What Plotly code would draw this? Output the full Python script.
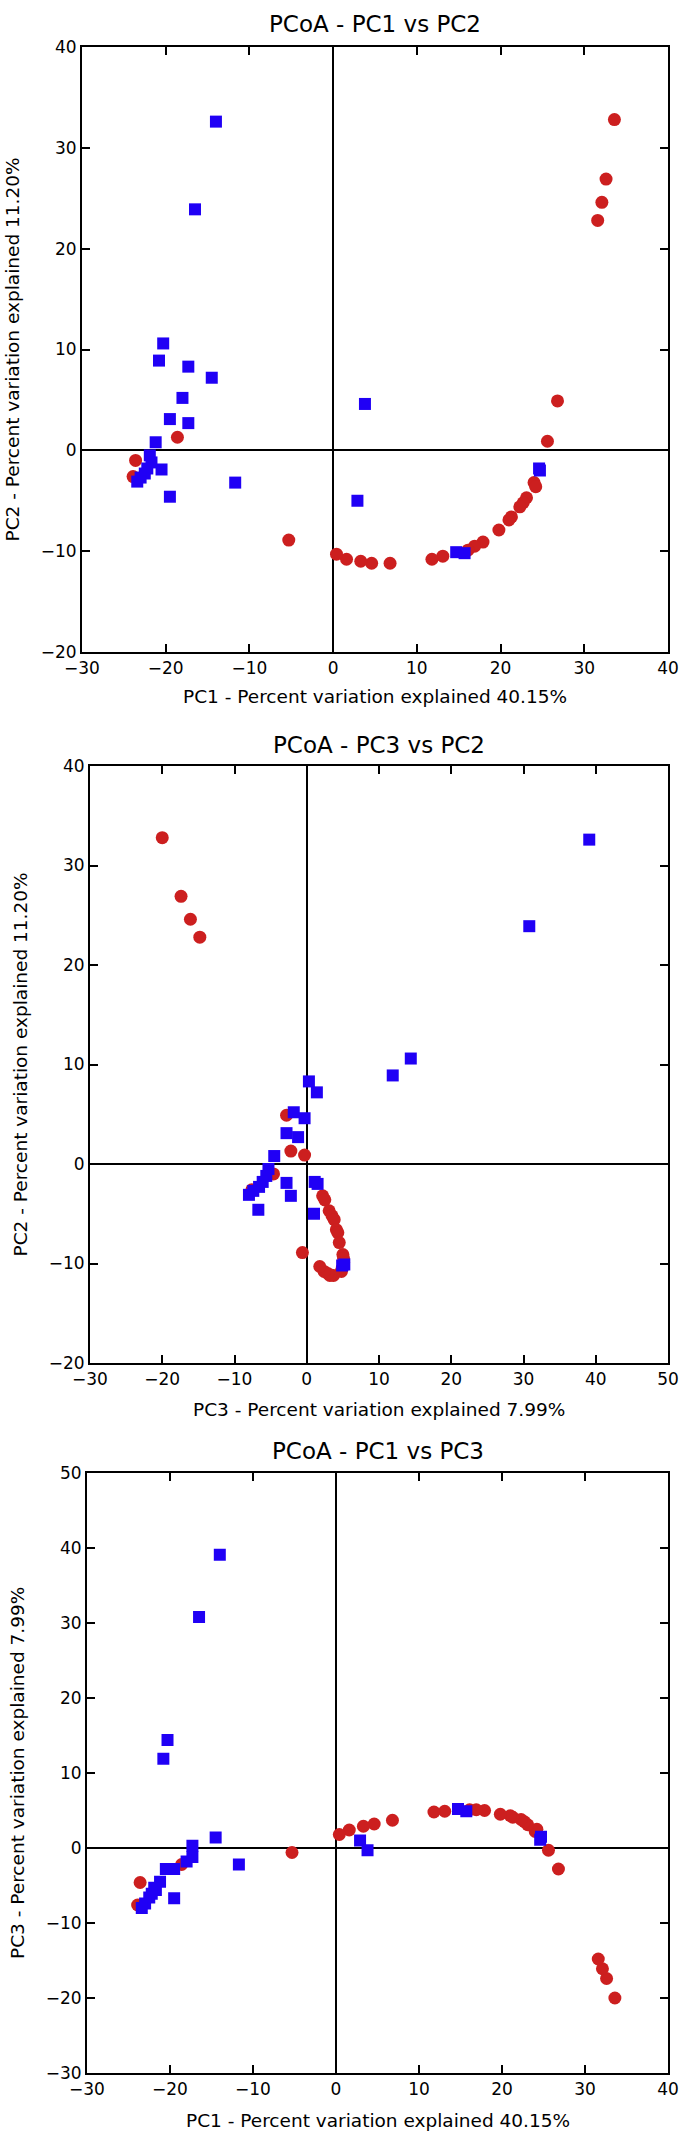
import plotly.graph_objects as go

# Sample coordinates (percent variation explained axes)
red_pc1 = [33.6, 32.6, 32.1, 31.6, 26.8, 25.6, 24.0, 24.2, 23.1, 22.7, 22.3, 21.3, 21.0,
           19.8, 17.9, 16.9, 16.1, 13.1, 11.8, 6.8, 4.6, 3.3, 1.6, 0.4, -5.3, -18.6, -23.6, -23.9]
red_pc2 = [32.8, 26.9, 24.6, 22.8, 4.9, 0.9, -3.2, -3.6, -4.7, -5.2, -5.6, -6.6, -6.9,
           -7.9, -9.1, -9.5, -9.9, -10.5, -10.8, -11.2, -11.2, -11.0, -10.8, -10.3, -8.9, 1.3, -1.0, -2.6]
red_pc3 = [-20.0, -17.4, -16.1, -14.8, -2.8, -0.3, 2.2, 2.5, 3.1, 3.5, 3.8, 4.1, 4.3,
           4.5, 5.0, 5.1, 5.1, 4.9, 4.8, 3.7, 3.2, 2.9, 2.4, 1.8, -0.6, -2.2, -4.6, -7.6]

blue_pc1 = [-14.0, -16.5, -20.3, -20.8, -17.3, -14.5, -18.0, -19.5, -17.3, -21.2, -20.5, -19.5,
            -11.7, 3.8, 2.9, 14.7, 15.7, 24.7, 24.6, -21.9, -21.7, -22.2, -22.5, -23.0, -23.4]
blue_pc2 = [32.6, 23.9, 10.6, 8.9, 8.3, 7.2, 5.2, 3.1, 2.7, 0.8, -1.9, -4.6,
            -3.2, 4.6, -5.0, -10.1, -10.2, -2.0, -1.8, -0.5, -1.2, -1.8, -2.3, -2.7, -3.1]
blue_pc3 = [39.1, 30.8, 14.4, 11.9, 0.3, 1.4, -1.8, -2.8, -1.2, -4.5, -2.8, -6.7,
            -2.2, -0.3, 1.0, 5.2, 4.9, 1.5, 1.1, -5.3, -5.6, -6.1, -6.6, -7.4, -8.0]

pc_labels = {
    "PC1": "PC1 - Percent variation explained 40.15%",
    "PC2": "PC2 - Percent variation explained 11.20%",
    "PC3": "PC3 - Percent variation explained 7.99%",
}

red = {"PC1": red_pc1, "PC2": red_pc2, "PC3": red_pc3}
blue = {"PC1": blue_pc1, "PC2": blue_pc2, "PC3": blue_pc3}

RED = "#cc1f1f"
BLUE = "#2000f5"
FONT = "DejaVu Sans"
W, H = 690, 2134

# (x pc, y pc, x range, y range, plot box in px: left, top, right, bottom,
#  title y, x-title y, y-title x)
panels = [
    ("PC1", "PC2", [-30, 40], [-20, 40], (82, 47, 668, 652), 24, 697, 12),
    ("PC3", "PC2", [-30, 50], [-20, 40], (90, 766, 668, 1363), 745, 1409, 20),
    ("PC1", "PC3", [-30, 40], [-30, 50], (87, 1473, 668, 2073), 1451, 2120, 17),
]


def px(x):
    return x / W


def py(y):
    return 1 - y / H


fig = go.Figure()
annotations = []
layout = {}

for i, (xk, yk, xr, yr, box, t_y, xt_y, yt_x) in enumerate(panels, start=1):
    left, top, right, bottom = box
    xa = "x" if i == 1 else f"x{i}"
    ya = "y" if i == 1 else f"y{i}"

    fig.add_trace(go.Scatter(
        x=red[xk], y=red[yk], xaxis=xa, yaxis=ya, mode="markers",
        marker={"symbol": "circle", "size": 13, "color": RED, "line": {"width": 0}},
        showlegend=False, hoverinfo="skip",
    ))
    fig.add_trace(go.Scatter(
        x=blue[xk], y=blue[yk], xaxis=xa, yaxis=ya, mode="markers",
        marker={"symbol": "square", "size": 12, "color": BLUE, "line": {"width": 0}},
        showlegend=False, hoverinfo="skip",
    ))

    axis_common = {
        "showgrid": False,
        "zeroline": True,
        "zerolinecolor": "black",
        "zerolinewidth": 2,
        "showline": True,
        "linecolor": "black",
        "linewidth": 2,
        "mirror": "ticks",
        "ticks": "inside",
        "ticklen": 8,
        "tickwidth": 2,
        "tickcolor": "black",
        "dtick": 10,
        "automargin": False,
        "tickfont": {"family": FONT, "size": 17, "color": "black"},
    }
    layout["xaxis" if i == 1 else f"xaxis{i}"] = dict(
        axis_common, range=xr, domain=[px(left), px(right)], anchor=ya,
    )
    layout["yaxis" if i == 1 else f"yaxis{i}"] = dict(
        axis_common, range=yr, domain=[py(bottom), py(top)], anchor=xa,
    )

    cx = (left + right) / 2
    cy = (top + bottom) / 2
    annotations.append(dict(
        text=f"PCoA - {xk} vs {yk}", x=px(cx), y=py(t_y), xref="paper", yref="paper",
        xanchor="center", yanchor="middle", showarrow=False,
        font={"family": FONT, "size": 23, "color": "black"},
    ))
    annotations.append(dict(
        text=pc_labels[xk], x=px(cx), y=py(xt_y), xref="paper", yref="paper",
        xanchor="center", yanchor="middle", showarrow=False,
        font={"family": FONT, "size": 18.5, "color": "black"},
    ))
    annotations.append(dict(
        text=pc_labels[yk], x=px(yt_x), y=py(cy), xref="paper", yref="paper",
        xanchor="center", yanchor="middle", showarrow=False, textangle=-90,
        font={"family": FONT, "size": 18.5, "color": "black"},
    ))

fig.update_layout(
    width=W,
    height=H,
    margin={"l": 0, "r": 0, "t": 0, "b": 0, "pad": 0, "autoexpand": False},
    paper_bgcolor="white",
    plot_bgcolor="white",
    annotations=annotations,
    **layout,
)

# the page's default 8px body margin would push the fixed-size figure off the window
fig.write_html(
    "out.html",
    config={"displayModeBar": False},
    post_script="document.body.style.margin = '0';",
)
